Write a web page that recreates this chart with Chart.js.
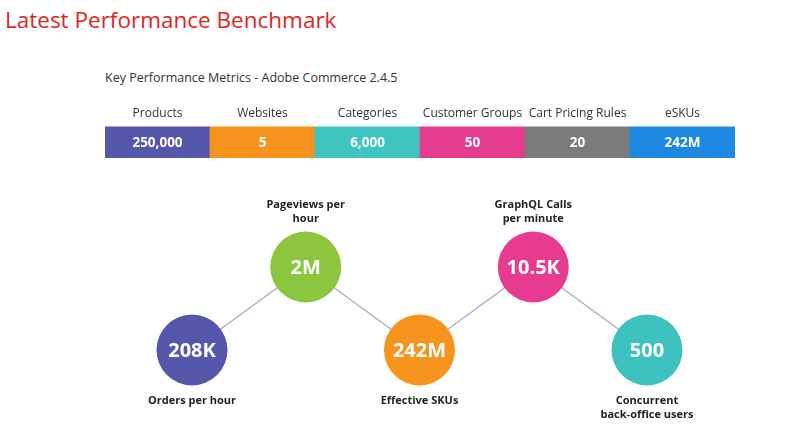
<!DOCTYPE html>
<html>
<head>
<meta charset="utf-8">
<script src="https://cdn.jsdelivr.net/npm/chart.js@4"></script>
<style>
  body { margin: 0; width: 800px; height: 446px; background: #fff; position: relative; overflow: hidden; font-family: "Open Sans", sans-serif; }
  #title { position: absolute; left: 5px; top: 4px; font-size: 22.5px; color: #e0261c; }
  #subtitle { position: absolute; left: 105px; top: 69px; font-size: 12.5px; color: #333; }
  #metricBox { position: absolute; left: 105px; top: 100px; width: 630px; height: 58px; }
  #nodeBox { position: absolute; left: 100px; top: 180px; width: 640px; height: 266px; }
</style>
</head>
<body>
<div id="title">Latest Performance Benchmark</div>
<div id="subtitle">Key Performance Metrics - Adobe Commerce 2.4.5</div>
<div id="metricBox"><canvas id="metricChart"></canvas></div>
<div id="nodeBox"><canvas id="nodeChart"></canvas></div>

<script>
// top strip : key metrics
const metricNames = ['Products', 'Websites', 'Categories', 'Customer Groups', 'Cart Pricing Rules', 'eSKUs'];
const metricValues = ['250,000', '5', '6,000', '50', '20', '242M'];
const metricSegment = [1, 1, 1, 1, 1, 1];   // every block is the same width
const metricColors = ['#5558aa', '#f7941e', '#3ec4c1', '#e53c8d', '#7b7b7b', '#1d88e2'];

// bottom zig-zag : benchmark results
const nodeValues = ['208K', '2M', '242M', '10.5K', '500'];
const nodeLabels = [['Orders per hour'], ['Pageviews per', 'hour'], ['Effective SKUs'], ['GraphQL Calls', 'per minute'], ['Concurrent', 'back-office users']];
const nodeLevel = [0, 1, 0, 1, 0];   // 0 = low row, 1 = high row
const nodeColors = ['#5558aa', '#8cc63f', '#f7941e', '#e63b8f', '#3dc2bf'];

const FONT = '"Open Sans", sans-serif';

//writes the value in the middle of each block
const metricValuePlugin = {
    id: 'metricValues',
    afterDatasetsDraw(chart) {
        const ctx = chart.ctx;
        const meta = chart.getDatasetMeta(0);
        ctx.save();
        ctx.fillStyle = '#fff';
        ctx.font = 'bold 13.5px ' + FONT;
        ctx.textAlign = 'center';
        ctx.textBaseline = 'middle';
        meta.data.forEach((bar, i) => {
            ctx.fillText(metricValues[i], bar.x, (bar.y + bar.base) / 2 + 1);
        });
        ctx.restore();
    }
};

new Chart(document.getElementById('metricChart'), {
    type: 'bar',
    data: {
        labels: metricNames,
        datasets: [{
            data: metricSegment,
            backgroundColor: metricColors,
            borderWidth: 0,
            barPercentage: 1,
            categoryPercentage: 1
        }]
    },
    options: {
        responsive: true,
        maintainAspectRatio: false,
        animation: false,
        layout: { padding: 0 },
        plugins: { legend: { display: false }, tooltip: { enabled: false } },
        scales: {
            x: {
                position: 'top',
                grid: { display: false, drawTicks: false },
                border: { display: false },
                ticks: { color: '#333', font: { family: FONT, size: 12 }, padding: 6, maxRotation: 0, autoSkip: false }
            },
            y: { display: false, min: 0, max: 1 }
        }
    },
    plugins: [metricValuePlugin]
});

//value inside circle + caption above or below it
const nodeTextPlugin = {
    id: 'nodeText',
    afterDatasetsDraw(chart) {
        const ctx = chart.ctx;
        const meta = chart.getDatasetMeta(0);
        ctx.save();
        ctx.textAlign = 'center';
        ctx.textBaseline = 'middle';
        meta.data.forEach((pt, i) => {
            ctx.fillStyle = '#fff';
            ctx.font = 'bold 20px ' + FONT;
            ctx.fillText(nodeValues[i], pt.x, pt.y + 1);

            ctx.fillStyle = '#222';
            ctx.font = 'bold 11px ' + FONT;
            const lines = nodeLabels[i];
            lines.forEach((line, k) => {
                let y;
                if (nodeLevel[i] === 1) {
                    y = pt.y - 48 - (lines.length - 1 - k) * 14;
                } else {
                    y = pt.y + 51 + k * 14;
                }
                ctx.fillText(line, pt.x, y);
            });
        });
        ctx.restore();
    }
};

new Chart(document.getElementById('nodeChart'), {
    type: 'line',
    data: {
        labels: nodeValues,
        datasets: [{
            data: nodeLevel,
            borderColor: '#a3a7c7',
            borderWidth: 1.2,
            tension: 0,
            pointRadius: 35.5,
            pointHoverRadius: 35.5,
            pointBorderWidth: 0,
            pointBackgroundColor: nodeColors,
            clip: false
        }]
    },
    options: {
        responsive: true,
        maintainAspectRatio: false,
        animation: false,
        layout: { padding: { left: 92, right: 93, top: 87, bottom: 96 } },
        plugins: { legend: { display: false }, tooltip: { enabled: false } },
        scales: {
            x: { display: false, offset: false },
            y: { display: false, min: 0, max: 1 }
        }
    },
    plugins: [nodeTextPlugin]
});
</script>
</body>
</html>
